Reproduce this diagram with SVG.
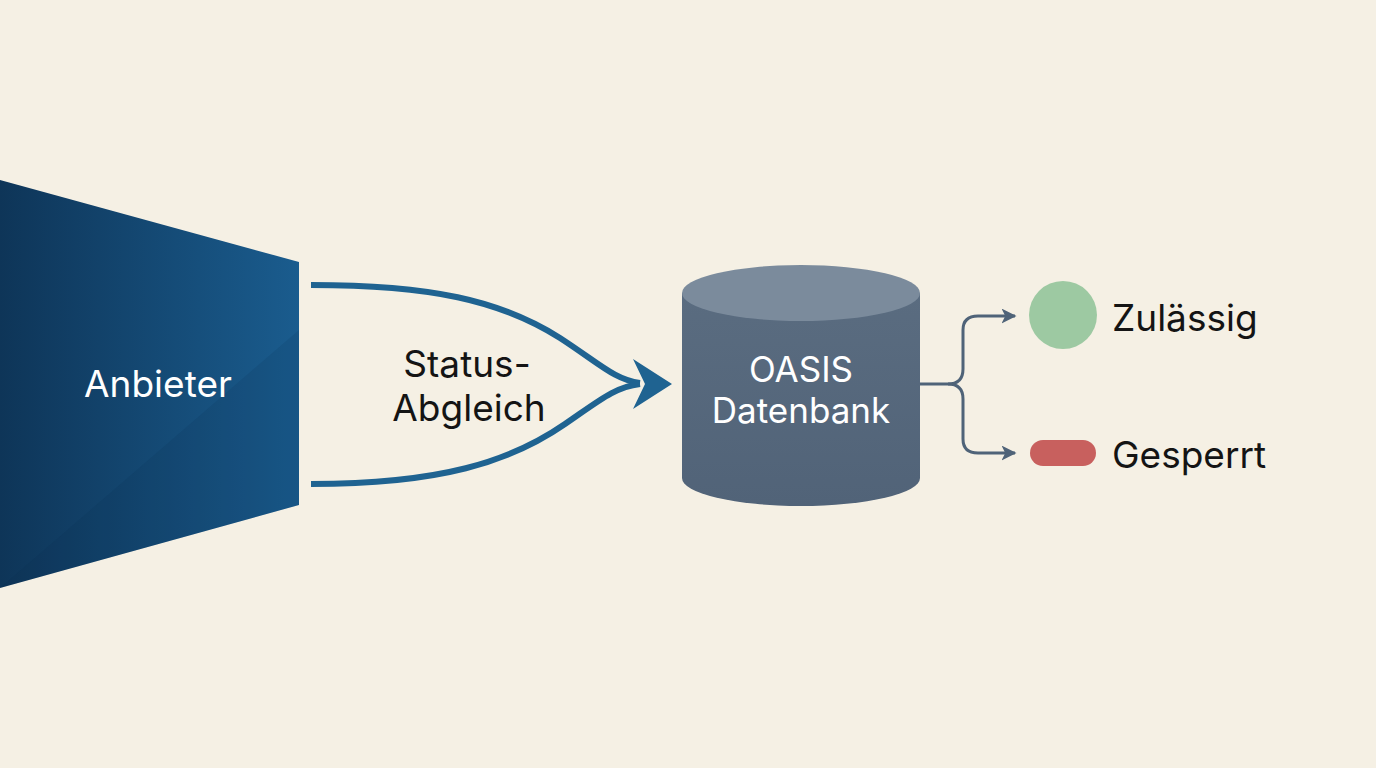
<svg xmlns="http://www.w3.org/2000/svg" width="1376" height="768" viewBox="0 0 1376 768">
<defs>
<linearGradient id="gTrap" x1="0" y1="0" x2="1" y2="0">
<stop offset="0" stop-color="#0e3558"/>
<stop offset="1" stop-color="#1a5c8e"/>
</linearGradient>
<linearGradient id="gBody" x1="0" y1="0" x2="0" y2="1">
<stop offset="0" stop-color="#5a6c80"/>
<stop offset="1" stop-color="#516378"/>
</linearGradient>
<marker id="arrS" viewBox="0 0 10 10" refX="9" refY="5" markerWidth="5" markerHeight="5" orient="auto" markerUnits="strokeWidth">
<path d="M0,0 L10,5 L0,10 L2.5,5 Z" fill="#4f6378"/>
</marker>
<style>
.lbl{font-family:"Inter","Liberation Sans",sans-serif;font-size:37px;}
.db{font-size:35px;}
.dark{fill:#141414;}
.white{fill:#ffffff;}
.flow{fill:none;stroke:#1f6391;stroke-width:6;stroke-linecap:butt;}
.branch{fill:none;stroke:#4f6378;stroke-width:3;}
</style>
</defs>
<rect width="1376" height="768" fill="#f5f0e4"/>
<g id="anbieter">
<polygon points="0,180 299,262 299,505 0,588" fill="url(#gTrap)"/>
<polygon points="0,588 299,330 299,505" fill="#0b2d4d" opacity="0.12"/>
<text class="lbl white" x="158" y="397" text-anchor="middle">Anbieter</text>
</g>
<g id="connectors">
<path class="flow" d="M311,285 C430,285 500,300 560,338 C600,364 615,380 640,383"/>
<path class="flow" d="M311,484 C440,484 510,462 565,424 C600,400 615,387 640,384"/>
<path d="M672,384 L633,359 L645,384 L633,409 Z" fill="#1f6391"/>
<path class="branch" d="M920,384 L948,384 Q963,384 963,369 L963,330 Q963,316 978,316 L1015,316" marker-end="url(#arrS)"/>
<path class="branch" d="M948,384 Q963,384 963,399 L963,439 Q963,453 978,453 L1015,453" marker-end="url(#arrS)"/>
</g>
<g id="status-label">
<text class="lbl dark" x="467" y="377" text-anchor="middle">Status-</text>
<text class="lbl dark" x="469" y="421" text-anchor="middle">Abgleich</text>
</g>
<g id="oasis">
<path d="M682,293 L682,478 A119,28 0 0 0 920,478 L920,293 Z" fill="url(#gBody)"/>
<ellipse cx="801" cy="293" rx="119" ry="28" fill="#7b8b9c"/>
<text class="lbl db white" x="801" y="382" text-anchor="middle">OASIS</text>
<text class="lbl db white" x="801" y="423" text-anchor="middle">Datenbank</text>
</g>
<g id="zulaessig">
<circle cx="1063" cy="315" r="34" fill="#9dc9a2"/>
<text class="lbl dark" x="1112" y="331">Zulässig</text>
</g>
<g id="gesperrt">
<rect x="1030" y="440" width="66" height="26" rx="13" fill="#c8605e"/>
<text class="lbl dark" x="1112" y="468">Gesperrt</text>
</g>
</svg>
